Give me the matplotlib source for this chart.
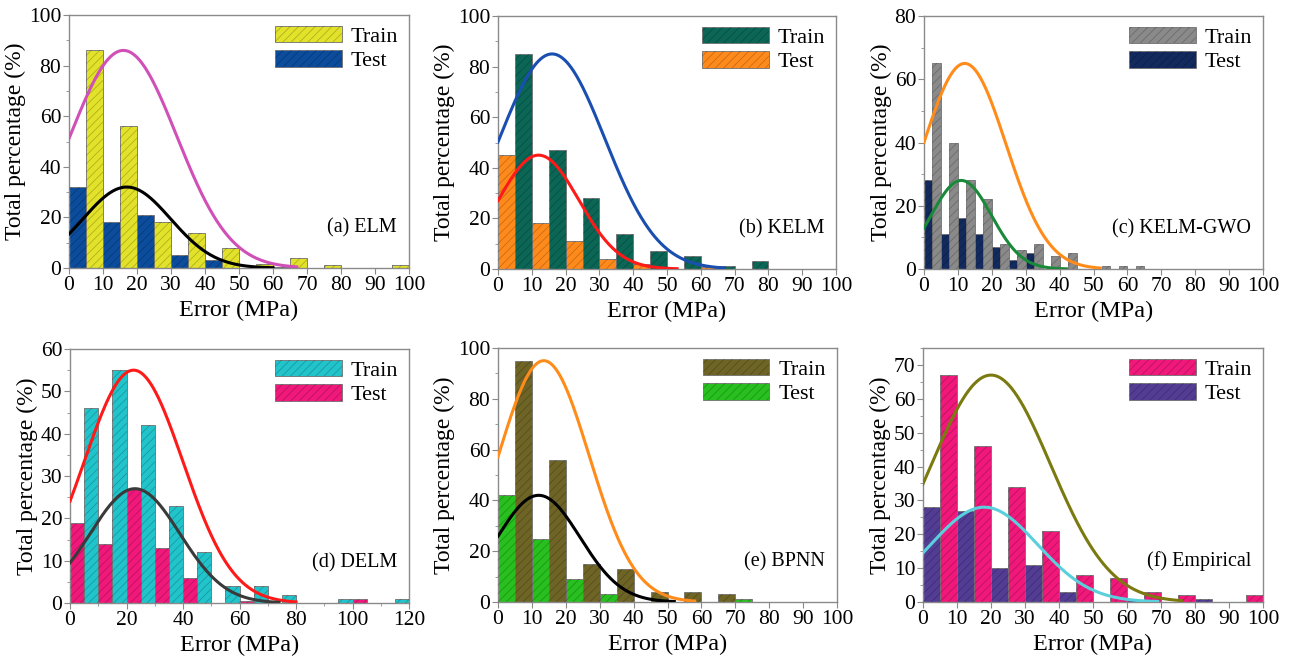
import numpy as np
import matplotlib
matplotlib.use('Agg')
import matplotlib.pyplot as plt
from matplotlib.patches import Patch
from matplotlib.legend_handler import HandlerTuple
from matplotlib.ticker import MultipleLocator

plt.rcParams['font.family'] = ['Liberation Serif', 'DejaVu Serif']
plt.rcParams['hatch.linewidth'] = 0.6

# error histograms: bin starts, train / test percentages per bin
a_bins = [0, 10, 20, 30, 40, 50, 60, 70, 80, 90]
a_train = [86, 56, 18, 14, 8, 1.5, 4, 1, 0, 1]
a_test = [32, 18, 21, 5, 3, 0, 0.5, 0, 0, 0]

b_bins = [0, 10, 20, 30, 40, 50, 60, 70, 80, 90]
b_train = [85, 47, 28, 14, 7, 5, 1, 3, 0, 0]
b_test = [45, 18, 11, 4, 2, 0, 0.7, 0, 0, 0]

c_bins = [0, 5, 10, 15, 20, 25, 30, 35, 40, 45, 50, 55, 60]
c_train = [65, 40, 28, 22, 8, 6, 8, 4, 5, 0, 1, 1, 1]
c_test = [28, 11, 16, 11, 7, 3, 5, 0, 0, 0, 0, 0, 0]

d_bins = [0, 10, 20, 30, 40, 50, 60, 70, 80, 90, 100, 110]
d_train = [46, 55, 42, 23, 12, 4, 4, 2, 0, 1, 0, 1]
d_test = [19, 14, 27, 13, 6, 0, 0.5, 0, 0, 0, 1, 0]

e_bins = [0, 10, 20, 30, 40, 50, 60, 70, 80, 90]
e_train = [95, 56, 15, 13, 4, 4, 3, 0, 0, 0]
e_test = [42, 25, 9, 3, 0, 0, 0, 1, 0, 0]

f_bins = [0, 10, 20, 30, 40, 50, 60, 70, 80, 90]
f_train = [67, 46, 34, 21, 8, 7, 3, 2, 0, 2]
f_test = [28, 27, 10, 11, 3, 0, 0.5, 0, 1, 0]

# normal fit curves: peak, mean, std, x where the curve stops
a_fit_train = [86, 16, 15.7, 67]
a_fit_test = [32, 17, 12.9, 60]
b_fit_train = [85, 16, 15.6, 67]
b_fit_test = [45, 12, 11.9, 53]
c_fit_train = [65, 12, 12.2, 52]
c_fit_test = [28, 11, 8.9, 42]
d_fit_train = [55, 22.5, 17.5, 80]
d_fit_test = [27, 23, 15.9, 74]
e_fit_train = [95, 13.5, 13.4, 58]
e_fit_test = [42, 12, 12.2, 52]
f_fit_train = [67, 20, 17.5, 76]
f_fit_test = [28, 18, 15.7, 69]

W, H = 1292, 661
fig = plt.figure(figsize=(W / 100, H / 100), dpi=100)


def box(l, t, r, b):
    # pixel box -> figure fraction
    return [l / W, 1 - b / H, (r - l) / W, (b - t) / H]


def fit_line(ax, p, color):
    peak, mu, sd, end = p
    x = np.linspace(0, end, 300)
    y = peak * np.exp(-(x - mu) ** 2 / (2 * sd ** 2))
    ax.plot(x, y, color=color, lw=2.2, zorder=4)


def panel(pos, bins, train, test, fit_tr, fit_te, c_tr, c_te, l_tr, l_te,
          label, xmax, ymax, xstep, ystep, xminor=None, ytop=None):
    ax = fig.add_axes(box(*pos))
    bins = np.array(bins, dtype=float)
    w = (bins[1] - bins[0]) / 2
    hatch_ec = (0, 0, 0, 0.22)
    # test bars on the left half of each bin, train on the right half
    for xs, vals, col in [(bins, test, c_te), (bins + w, train, c_tr)]:
        ax.bar(xs, vals, width=w, align='edge', color=col,
               edgecolor='#707070', lw=0.6, zorder=2)
        ax.bar(xs, vals, width=w, align='edge', color='none',
               edgecolor=hatch_ec, hatch='////', lw=0, zorder=3)
    fit_line(ax, fit_tr, l_tr)
    fit_line(ax, fit_te, l_te)

    ax.set_xlim(0, xmax)
    ax.set_ylim(0, ytop if ytop else ymax)
    ax.xaxis.set_major_locator(MultipleLocator(xstep))
    ax.yaxis.set_major_locator(MultipleLocator(ystep))
    ax.yaxis.set_minor_locator(MultipleLocator(ystep / 2))
    if xminor:
        ax.xaxis.set_minor_locator(MultipleLocator(xminor))
    if ytop:
        ax.set_yticks(np.arange(0, ymax + 1, ystep))
    for s in ax.spines.values():
        s.set_color('#8a8a8a')
        s.set_linewidth(1.0)
    ax.tick_params(which='major', direction='out', length=4, width=0.8,
                   color='#8a8a8a', labelsize=15.5, pad=1.5)
    ax.tick_params(which='minor', direction='out', length=2.5, width=0.6,
                   color='#8a8a8a')
    ax.set_xlabel('Error (MPa)', fontsize=17.5, labelpad=4)
    ax.set_ylabel('Total percentage (%)', fontsize=17, labelpad=2)

    h_tr = (Patch(facecolor=c_tr, edgecolor='#707070', lw=0.6),
            Patch(facecolor='none', edgecolor=hatch_ec, hatch='////', lw=0))
    h_te = (Patch(facecolor=c_te, edgecolor='#707070', lw=0.6),
            Patch(facecolor='none', edgecolor=hatch_ec, hatch='////', lw=0))
    ax.legend([h_tr, h_te], ['Train', 'Test'],
              handler_map={tuple: HandlerTuple(ndivide=1, pad=0)},
              loc='upper right', frameon=False, fontsize=16,
              handlelength=3.0, handleheight=0.75, handletextpad=0.4,
              labelspacing=0.15, borderaxespad=0.1)
    ax.text(0.965, 0.16, label, transform=ax.transAxes, ha='right',
            va='center', fontsize=14.5)
    return ax


panel((69, 15, 409, 268), a_bins, a_train, a_test, a_fit_train, a_fit_test,
      '#e2e22a', '#0b4c9c', '#d050b8', 'black', '(a) ELM', 100, 100, 10, 20)
panel((498, 16, 836, 269), b_bins, b_train, b_test, b_fit_train, b_fit_test,
      '#0b6655', '#ff8a1c', '#1a4fb0', '#ff1a1a', '(b) KELM', 100, 100, 10, 20)
panel((924, 16, 1263, 269), c_bins, c_train, c_test, c_fit_train, c_fit_test,
      '#8a8a8a', '#122a5e', '#ff8c1a', '#1a8a3a', '(c) KELM-GWO', 100, 80, 10, 20)
panel((70, 349, 409, 603), d_bins, d_train, d_test, d_fit_train, d_fit_test,
      '#22c4cc', '#f0187a', '#ff1a1a', '#3a3a3a', '(d) DELM', 120, 60, 20, 10,
      xminor=10)
panel((498, 348, 837, 602), e_bins, e_train, e_test, e_fit_train, e_fit_test,
      '#6e6426', '#28c01e', '#ff8c1a', 'black', '(e) BPNN', 100, 100, 10, 20)
panel((923, 348, 1263, 602), f_bins, f_train, f_test, f_fit_train, f_fit_test,
      '#f0187a', '#533c94', '#7a7a10', '#5ad0dc', '(f) Empirical', 100, 70, 10, 10,
      ytop=75)

fig.savefig('out.png', dpi=100)
